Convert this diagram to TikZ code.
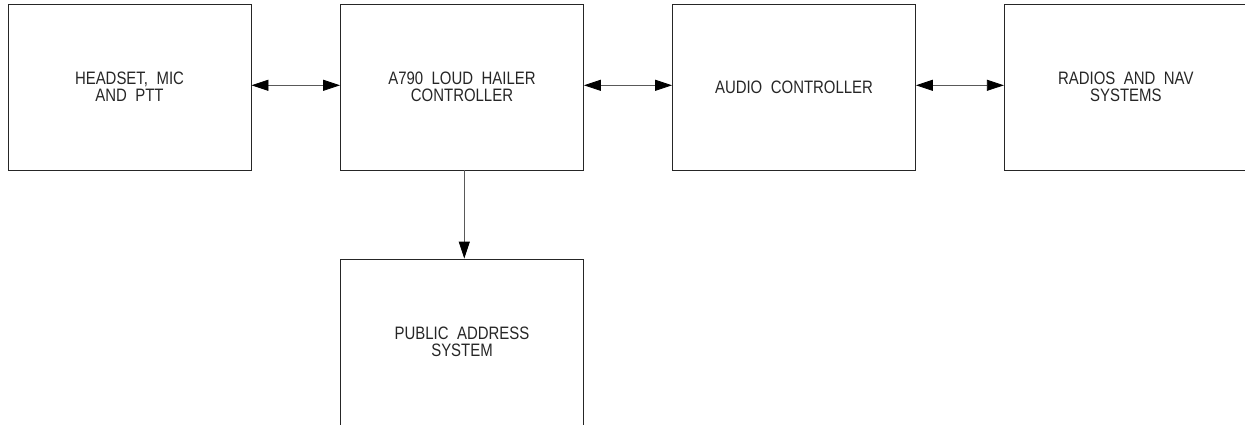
\documentclass[tikz,border=0pt]{standalone}
\usepackage{fontspec}
\setmainfont{Liberation Sans}[FakeStretch=0.83]
\usetikzlibrary{arrows.meta}
\tikzset{
  blockbox/.style={draw=black!85, line width=0.8pt, minimum width=243pt, minimum height=166pt,
    inner sep=0pt, align=center, text=black!85,
    font=\fontsize{18}{16.7}\selectfont,
    execute at begin node={\spaceskip=8.5pt plus 0pt\relax}},
  link/.style={draw=black!65, line width=0.8pt},
  tip/.style={-{Triangle[length=17pt,width=11pt,black]}},
  tips/.style={{Triangle[length=17pt,width=11pt,black]}-{Triangle[length=17pt,width=11pt,black]}}
}
\begin{document}
\begin{tikzpicture}[x=1pt,y=1pt]
\useasboundingbox (0,0) rectangle (1245,-424);
\node[blockbox] (hs) at (129.5,-87) {HEADSET, MIC\\AND PTT};
\node[blockbox] (lh) at (462,-87) {A790 LOUD HAILER\\CONTROLLER};
\node[blockbox] (ac) at (794,-87) {AUDIO CONTROLLER};
\node[blockbox] (rn) at (1125.8,-87) {RADIOS AND NAV\\SYSTEMS};
\node[blockbox] (pa) at (462,-342) {PUBLIC ADDRESS\\SYSTEM};
\draw[link,tips] ([yshift=1.7pt]hs.east) -- ([yshift=1.7pt]lh.west);
\draw[link,tips] ([yshift=1.7pt]lh.east) -- ([yshift=1.7pt]ac.west);
\draw[link,tips] ([yshift=1.7pt]ac.east) -- ([yshift=1.7pt]rn.west);
\draw[link,tip] ([xshift=2.3pt]lh.south) -- ([xshift=2.3pt]pa.north);
\end{tikzpicture}
\end{document}
